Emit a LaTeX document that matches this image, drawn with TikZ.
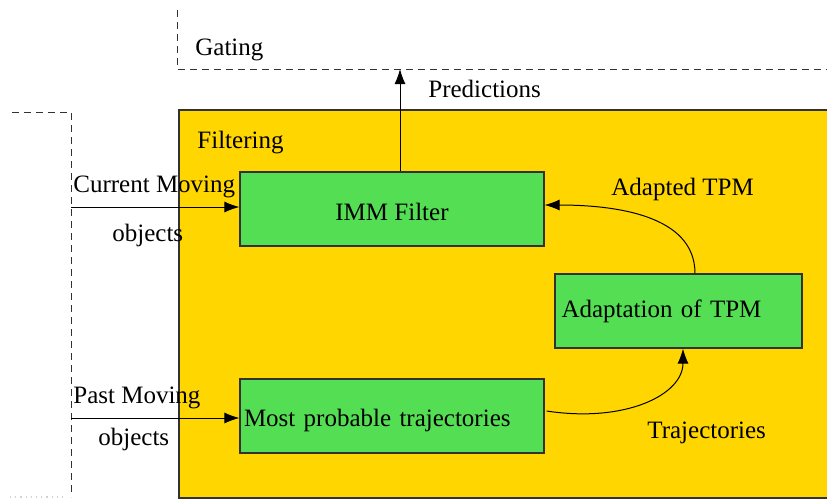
\documentclass[tikz,border=0pt]{standalone}
\usepackage{fontspec}
\setmainfont{Liberation Serif}
\usetikzlibrary{arrows.meta}
\definecolor{filterbg}{RGB}{255,214,0}
\definecolor{boxgreen}{RGB}{84,222,84}
\definecolor{edge}{RGB}{50,50,50}
\begin{document}
\begin{tikzpicture}[x=0.5pt,y=-0.5pt,
  font=\rmfamily\fontsize{12.5}{15}\selectfont,
  every node/.style={inner sep=0pt},
  lbl/.style={anchor=base west},
  stage/.style={draw=edge, line width=0.6pt, fill=boxgreen, minimum height=37pt},
  bound/.style={draw=edge, line width=0.5pt, dash pattern=on 3.5pt off 2.5pt},
  flow/.style={draw=black, line width=0.5pt, -{Latex[length=7.5pt,width=5.5pt]}}]
\useasboundingbox (0,0) rectangle (827,500);

% filtering region
\fill[filterbg] (179,110) rectangle (827,498);
\draw[edge, line width=0.6pt] (827,110) -- (179,110) -- (179,498) -- (827,498);

% gating boundary
\draw[bound] (177,10) -- (177,69) -- (827,69);
\coordinate (gate) at (400,69);

% input boundary
\draw[bound] (12,112) -- (71,112) -- (71,497);
\draw[gray!35, line width=0.6pt, dotted] (10,497) -- (66,497);

% stages
\node[stage, minimum width=152pt, text height=14pt, text depth=3pt] (imm) at (392,209) {IMM Filter};
\node[stage, minimum width=152pt, text width=148pt, align=left, text height=13pt, text depth=3pt] (most) at (392,416) {Most probable trajectories};
\node[stage, minimum width=123.5pt, text width=117pt, align=left, text height=9pt, text depth=3pt] (adapt) at (678.5,311) {Adaptation of TPM};

% labels
\node[lbl] (tgating) at (195,55) {Gating};
\node[lbl] (tfilter) at (197,148) {Filtering};
\node[lbl] (tpred) at (428,97) {Predictions};
\node[lbl] (tcur) at (73,192) {Current Moving};
\node[lbl] (tcurobj) at (112,241) {objects};
\node[lbl] (tpast) at (73,403) {Past Moving};
\node[lbl] (tpastobj) at (98,445) {objects};
\node[lbl] (tadapted) at (611,195) {Adapted TPM};
\node[lbl] (ttraj) at (647,438) {Trajectories};

% inputs
\coordinate (cin) at (71,207);
\coordinate (pin) at (71,418);
\draw[flow] (cin) -- (cin -| imm.west);
\draw[flow] (pin) -- (pin -| most.west);

% predictions to gating
\draw[flow] ([xshift=4pt]imm.north) -- (gate);

% adaptation loop
\draw[flow] ([xshift=1pt,yshift=2.5pt]most.east) .. controls (625,423) and (683,395) .. ([xshift=2.25pt]adapt.south);
\draw[flow] ([xshift=8.25pt]adapt.north) .. controls (695,215) and (615,205) .. ([yshift=2pt]imm.east);
\end{tikzpicture}
\end{document}
